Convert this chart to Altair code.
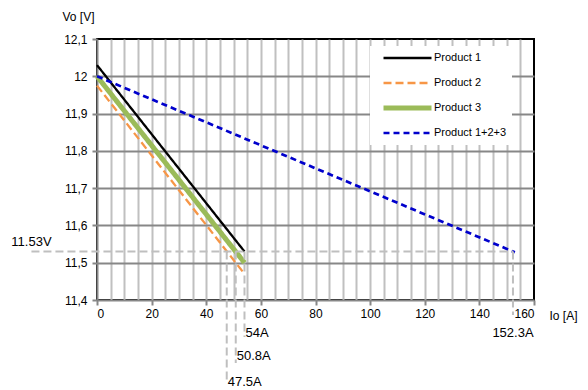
import altair as alt
import pandas as pd

# ---- data ----
series_names = ["Product 1", "Product 2", "Product 3", "Product 1+2+3"]
io_p1 = [0, 54]
vo_p1 = [12.03, 11.53]
io_p2 = [0, 54]
vo_p2 = [11.975, 11.47]
io_p3 = [0, 54]
vo_p3 = [12.0, 11.5]
io_sum = [0, 153]
vo_sum = [12.0, 11.528]

x_ticks = [0, 20, 40, 60, 80, 100, 120, 140, 160]
x_grid = list(range(0, 165, 5))
y_ticks = [11.4, 11.5, 11.6, 11.7, 11.8, 11.9, 12.0, 12.1]

ref_v = 11.53
ref_v_label = "11.53V"
ref_line_x = [-24, 152.3]
ref_label_pos = [-24, 11.556]
ann_currents = [47.5, 50.8, 54, 152.3]
ann_labels = ["47.5A", "50.8A", "54A", "152.3A"]
ann_line_end = [11.186, 11.231, 11.301, 11.36]
ann_label_y = [11.18, 11.25, 11.312, 11.312]

colors = ["#000000", "#F79646", "#9BBB59", "#0000CC"]
dashes = [[1, 0], [8, 4], [1, 0], [6, 4]]
widths = [2.3, 2.3, 5, 2.7]

FONT = "Liberation Sans"
GRAY = "#878787"
LIGHT = "#C0C0C0"
ANN = "#BFBFBF"

rows = []
for name, xs, ys in zip(series_names, [io_p1, io_p2, io_p3, io_sum], [vo_p1, vo_p2, vo_p3, vo_sum]):
    for i, (a, b) in enumerate(zip(xs, ys)):
        rows.append({"series": name, "io": a, "vo": b, "order": i})
df = pd.DataFrame(rows)

xscale = alt.Scale(domain=[0, 160], nice=False, zero=False)
yscale = alt.Scale(domain=[11.4, 12.1], nice=False, zero=False)

leg = alt.Legend(
    orient="none", legendX=273, legendY=7, title=None,
    fillColor="white", padding=5, rowPadding=11, clipHeight=14,
    symbolType="M-0.25,0H5.75", symbolSize=256, labelOffset=38,
    labelFont=FONT, labelFontSize=11, labelColor="black",
)

xaxis = alt.Axis(
    values=x_grid, title="Io [A]", grid=True, gridColor=LIGHT, gridWidth=2,
    gridOpacity={"condition": {"test": "datum.value > 0 && datum.value < 159", "value": 1}, "value": 0},
    labelExpr="datum.value % 20 == 0 ? datum.label : ''",
    tickOpacity={"condition": {"test": "datum.value % 20 == 0", "value": 1}, "value": 0},
    labelOverlap=False,
    tickColor=GRAY, tickWidth=2, tickSize=5, domainColor=GRAY, domainWidth=2,
    labelFont=FONT, labelFontSize=12, labelColor="black", labelPadding=3,
    titleFont=FONT, titleFontSize=12, titleFontWeight="normal", titleColor="black",
    titleX=466, titleY=15, titleAlign="center", titleBaseline="middle", titleAngle=0,
)
yaxis = alt.Axis(
    values=y_ticks, title="Vo [V]", grid=True, gridColor=GRAY, gridWidth=2,
    gridOpacity={"condition": {"test": "datum.value > 11.45 && datum.value < 12.05", "value": 1}, "value": 0},
    labelExpr="replace(format(datum.value, '.3~g'), '.', ',')",
    labelOverlap=False,
    tickColor=GRAY, tickWidth=2, tickSize=5, domainColor=GRAY, domainWidth=2,
    labelFont=FONT, labelFontSize=12, labelColor="black", labelPadding=5,
    titleFont=FONT, titleFontSize=12, titleFontWeight="normal", titleColor="black",
    titleX=-19, titleY=-23, titleAlign="center", titleBaseline="middle", titleAngle=0,
)


def X(field):
    return alt.X(field, scale=xscale, axis=xaxis)


def Y(field):
    return alt.Y(field, scale=yscale, axis=yaxis)


lines = alt.Chart(df).mark_line(strokeCap="butt").encode(
    x=X("io:Q"),
    y=Y("vo:Q"),
    color=alt.Color("series:N", scale=alt.Scale(domain=series_names, range=colors), legend=leg),
    strokeDash=alt.StrokeDash("series:N", scale=alt.Scale(domain=series_names, range=dashes), legend=leg),
    strokeWidth=alt.StrokeWidth(
        "series:N", scale=alt.Scale(type="ordinal", domain=series_names, range=widths), legend=leg
    ),
    order="order:Q",
)

href = pd.DataFrame({"x": [ref_line_x[0]], "x2": [ref_line_x[1]], "y": [ref_v]})
hrule = alt.Chart(href).mark_rule(color=ANN, strokeWidth=2, strokeDash=[8, 4]).encode(
    x=X("x:Q"), x2="x2:Q", y=Y("y:Q")
)

ann = pd.DataFrame({
    "x": ann_currents, "label": ann_labels,
    "y": [ref_v] * len(ann_currents), "y2": ann_line_end, "ly": ann_label_y,
})
vrules = alt.Chart(ann).mark_rule(color=ANN, strokeWidth=2, strokeDash=[8, 4]).encode(
    x=X("x:Q"), y=Y("y:Q"), y2="y2:Q"
)
txt_left = alt.Chart(ann.iloc[:3]).mark_text(
    align="left", baseline="middle", dx=1, font=FONT, fontSize=13, color="black"
).encode(x=X("x:Q"), y=Y("ly:Q"), text="label:N")
txt_center = alt.Chart(ann.iloc[3:]).mark_text(
    align="center", baseline="middle", font=FONT, fontSize=13, color="black"
).encode(x=X("x:Q"), y=Y("ly:Q"), text="label:N")

vlab = pd.DataFrame({"x": [ref_label_pos[0]], "y": [ref_label_pos[1]], "t": [ref_v_label]})
vtext = alt.Chart(vlab).mark_text(
    align="center", baseline="middle", font=FONT, fontSize=13, color="black"
).encode(x=X("x:Q"), y=Y("y:Q"), text="t:N")

chart = alt.layer(lines, hrule, vrules, txt_left, txt_center, vtext).properties(
    width=437, height=261,
    autosize=alt.AutoSizeParams(type="none"),
    padding={"left": 89, "top": 31, "right": 46, "bottom": 88},
    background="white",
).configure_view(stroke="black", strokeWidth=2)

chart.save("out.html", embed_options={"renderer": "svg", "actions": False})
